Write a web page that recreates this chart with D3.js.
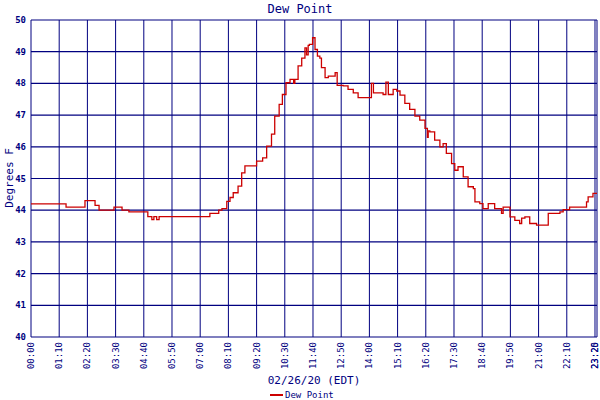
<!DOCTYPE html>
<html><head><meta charset="utf-8">
<script src="https://cdn.jsdelivr.net/npm/d3@7"></script>
<style>body{margin:0;background:#fff}</style></head>
<body><svg id="c" width="600" height="400"></svg>
<script>
const times = [0,87,134,159,169,206,226,243,290,300,305,312,318,325,419,444,466,474,486,494,502,514,523,531,547,560,575,585,597,605,616,624,633,643,652,655,663,672,680,684,688,691,699,705,711,717,721,730,738,755,760,775,787,800,812,841,845,850,874,881,887,899,908,916,928,940,953,965,978,984,986,990,1002,1015,1023,1031,1044,1052,1060,1073,1085,1098,1102,1114,1122,1135,1151,1168,1172,1189,1201,1213,1218,1226,1238,1255,1280,1284,1313,1321,1337,1370,1379,1383,1395,1405];
const values = [44.2,44.1,44.3,44.15,44.0,44.1,44.0,43.95,43.8,43.7,43.8,43.7,43.8,43.8,43.8,43.9,44.0,44.05,44.28,44.4,44.55,44.76,45.18,45.4,45.4,45.55,45.65,46.02,46.4,46.97,47.34,47.65,48.02,48.13,48.0,48.13,48.55,48.8,49.12,48.9,49.2,49.23,49.44,49.07,48.86,48.8,48.5,48.18,48.23,48.34,47.94,47.92,47.81,47.7,47.55,47.55,48.0,47.7,47.65,48.04,47.65,47.81,47.76,47.63,47.37,47.18,46.97,46.84,46.58,46.3,46.5,46.47,46.21,46.0,46.1,45.79,45.47,45.26,45.37,45.05,44.74,44.68,44.26,44.21,44.05,44.21,44.05,43.9,44.1,43.79,43.68,43.58,43.75,43.79,43.58,43.53,43.53,43.9,43.95,44.02,44.1,44.1,44.26,44.42,44.53,44.53];
const tickMinutes = [0,70,140,210,280,350,420,490,560,630,700,770,840,910,980,1050,1120,1190,1260,1330,1400,1405];
const tickLabels = ["00:00","01:10","02:20","03:30","04:40","05:50","07:00","08:10","09:20","10:30","11:40","12:50","14:00","15:10","16:20","17:30","18:40","19:50","21:00","22:10","23:20","23:25"];
const yTicks = [40,41,42,43,44,45,46,47,48,49,50];

const svg = d3.select("#c");
const L=31,R=597,T=20,B=337, navy="#000080", font="DejaVu Sans Mono, monospace";
const x = d3.scaleLinear().domain([0,1405]).range([L,R]);
const y = d3.scaleLinear().domain([40,50]).range([B,T]);

svg.append("g").selectAll("line").data(yTicks).join("line")
  .attr("x1",L).attr("x2",R).attr("y1",d=>y(d)).attr("y2",d=>y(d))
  .attr("stroke",navy).attr("stroke-width",1.2);
svg.append("g").selectAll("line").data(tickMinutes).join("line")
  .attr("x1",d=>x(d)).attr("x2",d=>x(d)).attr("y1",T).attr("y2",B)
  .attr("stroke",navy).attr("stroke-width",1);

svg.append("g").selectAll("text").data(yTicks).join("text")
  .attr("x",L-5).attr("y",d=>y(d)+3).attr("text-anchor","end")
  .attr("font-family",font).attr("font-size",9).attr("font-weight","bold").attr("fill",navy).text(d=>d);
svg.append("g").selectAll("text").data(tickMinutes).join("text")
  .attr("transform",(d)=>`translate(${Math.min(x(d)+3,598)},${B+5}) rotate(-90)`).attr("text-anchor","end")
  .attr("font-family",font).attr("font-size",9).attr("fill",navy).text((d,i)=>tickLabels[i]);

const pts = times.map((t,i)=>[t,values[i]]);
svg.append("path").datum(pts)
  .attr("d",d3.line().x(d=>x(d[0])).y(d=>y(d[1])).curve(d3.curveStepAfter))
  .attr("fill","none").attr("stroke","#cc0000").attr("stroke-width",1.3);

svg.append("text").attr("x",300).attr("y",13).attr("text-anchor","middle")
  .attr("font-family",font).attr("font-size",12).attr("fill",navy).text("Dew Point");
svg.append("text").attr("transform","translate(13,178) rotate(-90)").attr("text-anchor","middle")
  .attr("font-family",font).attr("font-size",11).attr("fill",navy).text("Degrees F");
svg.append("text").attr("x",314).attr("y",384).attr("text-anchor","middle")
  .attr("font-family",font).attr("font-size",11).attr("fill",navy).text("02/26/20 (EDT)");
svg.append("line").attr("x1",270).attr("x2",283).attr("y1",395).attr("y2",395).attr("stroke","#cc0000").attr("stroke-width",2);
svg.append("text").attr("x",285).attr("y",398).attr("font-family",font).attr("font-size",9).attr("fill",navy).text("Dew Point");
</script></body></html>
